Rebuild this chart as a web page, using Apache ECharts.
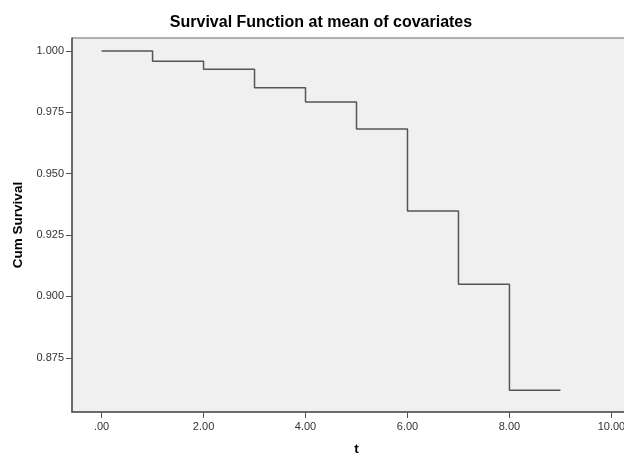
<!DOCTYPE html>
<html>
<head>
<meta charset="utf-8">
<script src="https://cdn.jsdelivr.net/npm/echarts@6/dist/echarts.min.js"></script>
<style>
html, body { margin: 0; padding: 0; background: #fff; overflow: hidden; }
/* the plot frame runs past the right edge of the window */
#chart { width: 660px; height: 453px; }
</style>
</head>
<body>
<div id="chart"></div>
<script>
// step points
var times = [0, 1, 2, 3, 4, 5, 6, 7, 8, 9];
var survival = [1.000, 0.9958, 0.9926, 0.985, 0.9792, 0.9682, 0.9348, 0.905, 0.8618, 0.8618];
var xTicks = [0, 2, 4, 6, 8, 10];
var yTicks = [0.875, 0.900, 0.925, 0.950, 0.975, 1.000];

var chart = echarts.init(document.getElementById('chart'));

var points = times.map(function (t, i) { return [t, survival[i]]; });

var option = {
  animation: false,
  title: {
    text: 'Survival Function at mean of covariates',
    left: 316,
    textAlign: 'center',
    top: 10,
    textStyle: { fontFamily: 'Arial', fontSize: 16, fontWeight: 'bold', color: '#000' }
  },
  grid: {
    left: 72,
    right: 19,
    top: 38,
    bottom: 41,
    outerBoundsMode: 'none',
    containLabel: false,
    show: true,
    backgroundColor: '#f0f0f0',
    borderColor: '#666',
    borderWidth: 1
  },
  xAxis: {
    type: 'value',
    min: -0.58,
    max: 10.58,
    name: 't',
    nameLocation: 'middle',
    nameGap: 30,
    nameTextStyle: { fontFamily: 'Arial', fontSize: 13.5, fontWeight: 'bold', color: '#000' },
    axisLine: { show: true, onZero: false, lineStyle: { color: '#555', width: 1.5 } },
    axisTick: { show: true, length: 6, customValues: xTicks, lineStyle: { color: '#555' } },
    axisLabel: {
      customValues: xTicks,
      fontFamily: 'Arial', fontSize: 11, color: '#333', margin: 9,
      formatter: function (v) { return v === 0 ? '.00' : v.toFixed(2); }
    },
    splitLine: { show: false }
  },
  yAxis: {
    type: 'value',
    min: 0.8529,
    max: 1.0053,
    name: 'Cum Survival',
    nameLocation: 'middle',
    nameGap: 44,
    nameTextStyle: { fontFamily: 'Arial', fontSize: 13.5, fontWeight: 'bold', color: '#000' },
    axisLine: { show: true, onZero: false, lineStyle: { color: '#555', width: 1.5 } },
    axisTick: { show: true, length: 6, customValues: yTicks, lineStyle: { color: '#555' } },
    axisLabel: {
      customValues: yTicks,
      fontFamily: 'Arial', fontSize: 11, color: '#333', margin: 8,
      formatter: function (v) { return v.toFixed(3); }
    },
    splitLine: { show: false }
  },
  series: [{
    type: 'line',
    step: 'end',
    data: points,
    symbol: 'none',
    lineStyle: { color: '#555', width: 1.5 }
  }]
};

chart.setOption(option);
</script>
</body>
</html>
